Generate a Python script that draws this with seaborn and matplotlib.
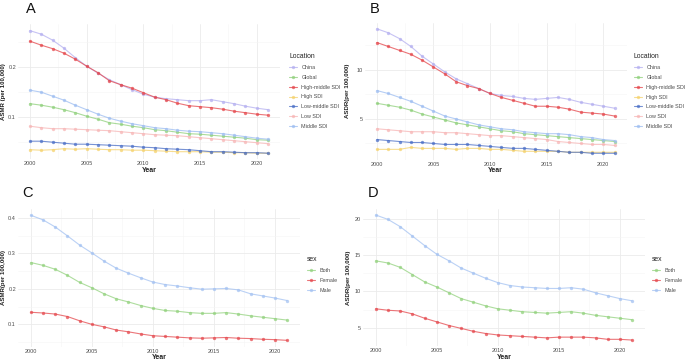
import matplotlib
matplotlib.use("Agg")
import matplotlib.pyplot as plt
from matplotlib.ticker import MultipleLocator
import seaborn as sns
import pandas as pd

years = list(range(2000, 2022))

# Panel A: ASMR by location
asmr_china = [0.272, 0.265, 0.253, 0.237, 0.218, 0.201, 0.187, 0.174, 0.164, 0.154, 0.145,
              0.139, 0.136, 0.134, 0.132, 0.132, 0.134, 0.130, 0.126, 0.121, 0.117, 0.114]
asmr_global = [0.126, 0.123, 0.119, 0.114, 0.108, 0.101, 0.095, 0.088, 0.085, 0.081, 0.078,
               0.074, 0.072, 0.069, 0.066, 0.065, 0.063, 0.061, 0.059, 0.057, 0.054, 0.053]
asmr_high_middle = [0.251, 0.243, 0.236, 0.227, 0.215, 0.201, 0.188, 0.172, 0.164, 0.157, 0.148,
                    0.139, 0.134, 0.127, 0.122, 0.120, 0.118, 0.115, 0.111, 0.108, 0.105, 0.103]
asmr_high = [0.034, 0.033, 0.034, 0.036, 0.035, 0.036, 0.035, 0.034, 0.034, 0.033, 0.033,
             0.032, 0.031, 0.030, 0.030, 0.030, 0.029, 0.029, 0.028, 0.028, 0.027, 0.027]
asmr_low_middle = [0.051, 0.051, 0.049, 0.047, 0.045, 0.045, 0.044, 0.043, 0.042, 0.041, 0.039,
                   0.038, 0.036, 0.035, 0.034, 0.032, 0.030, 0.030, 0.029, 0.028, 0.028, 0.027]
asmr_low = [0.081, 0.078, 0.076, 0.076, 0.075, 0.074, 0.073, 0.072, 0.070, 0.068, 0.066,
            0.064, 0.063, 0.062, 0.060, 0.058, 0.056, 0.054, 0.052, 0.050, 0.048, 0.046]
asmr_middle = [0.153, 0.149, 0.141, 0.133, 0.123, 0.114, 0.105, 0.097, 0.091, 0.086, 0.082,
               0.078, 0.076, 0.073, 0.071, 0.070, 0.068, 0.066, 0.063, 0.060, 0.057, 0.055]

# Panel B: ASDR by location
asdr_china = [14.2, 13.8, 13.2, 12.4, 11.4, 10.6, 9.8, 9.1, 8.6, 8.1, 7.6,
              7.4, 7.3, 7.1, 7.0, 7.1, 7.2, 7.0, 6.7, 6.5, 6.3, 6.1]
asdr_global = [6.6, 6.4, 6.2, 5.9, 5.5, 5.2, 4.9, 4.6, 4.4, 4.2, 4.0,
               3.8, 3.7, 3.5, 3.4, 3.3, 3.2, 3.1, 3.0, 2.9, 2.8, 2.7]
asdr_high_middle = [12.8, 12.4, 12.0, 11.6, 11.0, 10.3, 9.6, 8.8, 8.4, 8.1, 7.6,
                    7.2, 6.9, 6.6, 6.3, 6.3, 6.2, 6.0, 5.7, 5.6, 5.5, 5.3]
asdr_high = [1.9, 1.9, 1.9, 2.1, 2.0, 2.0, 2.0, 1.9, 2.0, 2.0, 1.9,
             1.9, 1.8, 1.7, 1.7, 1.7, 1.7, 1.6, 1.6, 1.6, 1.6, 1.6]
asdr_low_middle = [2.9, 2.8, 2.7, 2.6, 2.6, 2.5, 2.4, 2.4, 2.4, 2.3, 2.2,
                   2.1, 2.0, 2.0, 1.9, 1.8, 1.7, 1.6, 1.6, 1.5, 1.5, 1.5]
asdr_low = [4.0, 3.9, 3.8, 3.7, 3.7, 3.7, 3.6, 3.6, 3.5, 3.4, 3.3,
            3.3, 3.2, 3.1, 3.0, 2.9, 2.7, 2.6, 2.5, 2.4, 2.4, 2.3]
asdr_middle = [7.9, 7.6, 7.2, 6.8, 6.3, 5.8, 5.3, 5.0, 4.7, 4.4, 4.2,
               4.0, 3.9, 3.7, 3.6, 3.5, 3.5, 3.4, 3.2, 3.1, 2.9, 2.8]

# Panel C: ASMR by sex
asmr_both = [0.274, 0.266, 0.255, 0.238, 0.218, 0.203, 0.186, 0.172, 0.163, 0.153, 0.145,
             0.139, 0.137, 0.133, 0.131, 0.131, 0.133, 0.129, 0.124, 0.120, 0.116, 0.112]
asmr_female = [0.134, 0.132, 0.129, 0.122, 0.110, 0.100, 0.093, 0.084, 0.079, 0.073, 0.068,
               0.066, 0.064, 0.062, 0.061, 0.062, 0.063, 0.061, 0.060, 0.058, 0.057, 0.055]
asmr_male = [0.407, 0.394, 0.374, 0.349, 0.323, 0.301, 0.278, 0.258, 0.244, 0.231, 0.219,
             0.212, 0.208, 0.203, 0.199, 0.200, 0.201, 0.197, 0.186, 0.180, 0.174, 0.167]

# Panel D: ASDR by sex
asdr_both = [14.2, 13.9, 13.3, 12.3, 11.3, 10.6, 9.8, 9.0, 8.5, 8.0, 7.6,
             7.4, 7.2, 7.1, 7.0, 7.1, 7.2, 7.0, 6.7, 6.5, 6.3, 6.1]
asdr_female = [7.6, 7.4, 7.3, 6.9, 6.3, 5.8, 5.3, 4.9, 4.5, 4.2, 4.0,
               3.9, 3.8, 3.7, 3.6, 3.7, 3.7, 3.7, 3.6, 3.4, 3.4, 3.3]
asdr_male = [20.5, 19.9, 18.9, 17.6, 16.3, 15.1, 14.2, 13.2, 12.5, 11.8, 11.2,
             10.8, 10.6, 10.5, 10.4, 10.4, 10.5, 10.3, 9.8, 9.4, 9.0, 8.7]

locations = ["China", "Global", "High-middle SDI", "High SDI", "Low-middle SDI", "Low SDI", "Middle SDI"]
sexes = ["Both", "Female", "Male"]

loc_colors = ["#B4AFF0", "#8FD07B", "#E5464B", "#F5D26C", "#4A6EC6", "#F7B5B5", "#9DBDF1"]
sex_colors = ["#93D27E", "#E5484D", "#A4C2F2"]


def long_frame(series, names, key):
    rows = []
    for name, vals in zip(names, series):
        for y, v in zip(years, vals):
            rows.append({"Year": y, key: name, "value": v})
    return pd.DataFrame(rows)


df_a = long_frame([asmr_china, asmr_global, asmr_high_middle, asmr_high, asmr_low_middle, asmr_low, asmr_middle],
                  locations, "Location")
df_b = long_frame([asdr_china, asdr_global, asdr_high_middle, asdr_high, asdr_low_middle, asdr_low, asdr_middle],
                  locations, "Location")
df_c = long_frame([asmr_both, asmr_female, asmr_male], sexes, "sex")
df_d = long_frame([asdr_both, asdr_female, asdr_male], sexes, "sex")

sns.set_theme(style="white")
plt.rcParams["font.family"] = ["Liberation Sans", "DejaVu Sans"]

W, H = 685, 362
fig = plt.figure(figsize=(W / 100, H / 100), dpi=100)


def px_axes(x0, y0, x1, y1):
    return fig.add_axes([x0 / W, 1 - y1 / H, (x1 - x0) / W, (y1 - y0) / H])


def draw(ax, box, df, key, palette, ylabel, ymajor, yminor, letter, leg_xy, letter_xy, label_x):
    x0, y0, x1, y1 = box
    sns.lineplot(data=df, x="Year", y="value", hue=key, palette=palette, ax=ax,
                 marker="o", markersize=2.4, markeredgewidth=0, linewidth=0.8, alpha=0.75)
    ax.set_facecolor("white")
    ax.xaxis.set_major_locator(MultipleLocator(5))
    ax.xaxis.set_minor_locator(MultipleLocator(2.5))
    ax.yaxis.set_major_locator(MultipleLocator(ymajor))
    ax.yaxis.set_minor_locator(MultipleLocator(yminor))
    ax.grid(which="major", color="#EBEBEB", linewidth=0.6)
    ax.grid(which="minor", color="#F5F5F5", linewidth=0.4)
    ax.set_axisbelow(True)
    for s in ax.spines.values():
        s.set_visible(False)
    ax.tick_params(axis="both", which="both", length=0, labelsize=4.0, colors="#4D4D4D", pad=1.5)
    ax.set_xlim(1998.95, 2022.05)
    ax.set_xlabel("Year", fontsize=5.0, fontweight="bold", color="#222222", labelpad=0.5)
    ax.set_ylabel(ylabel, fontsize=4.4, fontweight="bold", color="#222222")
    ax.yaxis.set_label_coords((label_x - x0) / (x1 - x0), 0.5)
    lx, ly = leg_xy
    handles, labels = ax.get_legend_handles_labels()
    leg = ax.legend(handles, labels, title=key, loc="upper left",
                    bbox_to_anchor=((lx - x0) / (x1 - x0), (y1 - ly) / (y1 - y0)),
                    frameon=False, fontsize=3.9, title_fontsize=4.9, handlelength=1.5,
                    handletextpad=0.8, labelspacing=0.9, borderaxespad=0, borderpad=0,
                    alignment="left")
    for t in leg.get_texts():
        t.set_color("#4D4D4D")
    leg.get_title().set_color("#222222")
    fig.text(letter_xy[0] / W, 1 - letter_xy[1] / H, letter, fontsize=10.5, ha="left", va="center",
             color="#111111")


box_a = (18, 24.5, 280, 159.3)
ax_a = px_axes(*box_a)
draw(ax_a, box_a, df_a, "Location", loc_colors, "ASMR (per 100,000)", 0.1, 0.05, "A",
     (289, 53), (26, 9), 6)
ax_a.set_ylim(0.0148, 0.2843)

box_b = (365, 22.6, 626.5, 159.5)
ax_b = px_axes(*box_b)
draw(ax_b, box_b, df_b, "Location", loc_colors, "ASDR(per 100,000)", 5, 2.5, "B",
     (634, 53), (370, 9), 350)
ax_b.set_ylim(0.865, 14.835)

box_c = (18, 209, 300, 346.6)
ax_c = px_axes(*box_c)
draw(ax_c, box_c, df_c, "sex", sex_colors, "ASMR(per 100,000)", 0.1, 0.05, "C",
     (307, 256), (22, 193), 6)
ax_c.set_ylim(0.0374, 0.4246)

box_d = (363, 208.8, 645, 346.3)
ax_d = px_axes(*box_d)
draw(ax_d, box_d, df_d, "sex", sex_colors, "ASDR(per 100,000)", 5, 2.5, "D",
     (652, 256), (368, 193), 351)
ax_d.set_ylim(2.44, 21.36)

fig.savefig("out.png", dpi=100)
